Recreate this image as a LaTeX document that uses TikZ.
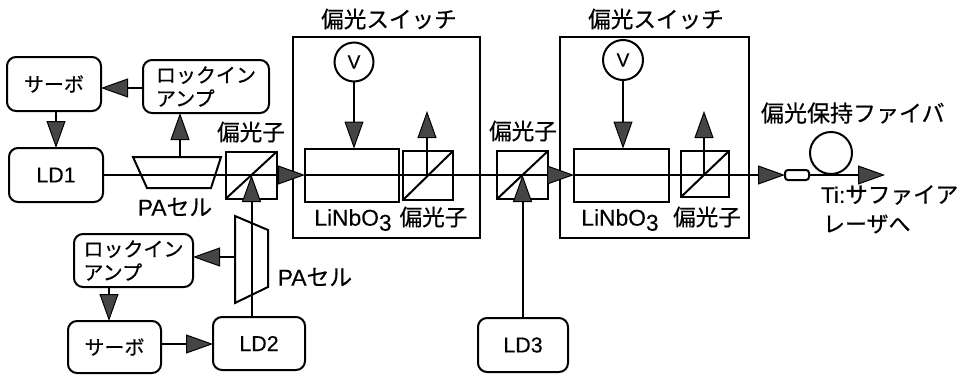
\documentclass[tikz,border=0pt]{standalone}
\usepackage{fontspec}
\setmainfont{Liberation Sans}[FakeBold=0.25]
\newfontfamily\jp{Noto Sans CJK JP}[FakeBold=0.5]
\usetikzlibrary{arrows.meta}
\definecolor{tipgray}{gray}{0.27}
\tikzset{
 x=1pt,y=-1pt,
 ln/.style={line width=2pt,black},
 rbox/.style={draw,rounded corners=9pt,inner sep=0pt,outer sep=0pt,align=left,font=\fontsize{20}{23.5}\selectfont\jp},
 ldbox/.style={rbox,font=\fontsize{21.5}{24}\selectfont},
 rect/.style={draw,inner sep=0pt,outer sep=0pt},
 ttl/.style={inner sep=0pt,font=\fontsize{22.6}{25}\selectfont\jp},
 lbl/.style={inner sep=0pt,font=\fontsize{22.8}{25}\selectfont},
 arr/.style={-{Triangle[length=27pt,width=19pt,fill=tipgray,line width=1pt]}},
}
\newcommand{\polcube}[4]{%
 \node[rect,minimum width=#3pt,minimum height=#4pt] (#1) at (#2) {};
 \draw (#1.south west) -- (#1.north east);}
\begin{document}
\begin{tikzpicture}[ln]
\useasboundingbox (0,0) rectangle (961,375);
% boxes upper left
\node[rbox,minimum width=94pt,minimum height=54pt] (servoa) at (54,84) {サーボ};
\node[rbox,minimum width=126pt,minimum height=53pt] (locka) at (206,86.5) {ロックイン\\アンプ};
\node[ldbox,minimum width=94pt,minimum height=54pt] (lda) at (56,175) {LD1};
% boxes lower left
\node[rbox,minimum width=119pt,minimum height=53pt] (lockb) at (133.5,260.5) {ロックイン\\アンプ};
\node[rbox,minimum width=93pt,minimum height=52pt] (servob) at (114.5,347) {サーボ};
\node[ldbox,minimum width=92pt,minimum height=53pt] (ldb) at (259,343.5) {LD2};
\node[ldbox,minimum width=90pt,minimum height=54pt] (ldc) at (523,345) {LD3};
% switches
\node[rect,minimum width=187pt,minimum height=201pt] (swa) at (386.5,137.5) {};
\node[rect,minimum width=189pt,minimum height=201pt] (swb) at (654.5,137.5) {};
\node[ttl] (swat) at (389,19) {偏光スイッチ};
\node[ttl] (swbt) at (656,19) {偏光スイッチ};
\node[draw,circle,inner sep=0pt,outer sep=0pt,minimum size=39pt,font=\fontsize{19}{20}\selectfont] (va) at (354,62) {V};
\node[draw,circle,inner sep=0pt,outer sep=0pt,minimum size=40pt,font=\fontsize{19}{20}\selectfont] (vb) at (623,60) {V};
\node[rect,minimum width=94pt,minimum height=53pt] (lna) at (352,175) {};
\node[rect,minimum width=95pt,minimum height=53pt] (lnb) at (621.5,175) {};
\polcube{pa}{251.5,175}{51}{47}
\polcube{pb}{428,175.5}{50}{49}
\polcube{pc}{522.5,175}{51}{48}
\polcube{pd}{705,174}{48}{46}
% PA cells
\draw (133,157) -- (221,157) -- (211,188) -- (147,188) -- cycle;
\draw (235,216) -- (268,230) -- (268,287) -- (235,303) -- cycle;
\coordinate (pacella) at (180,157);
\coordinate (pacellb) at (235,257);
\coordinate (pbup) at (427,111);
\coordinate (pdup) at (704,111);
\coordinate (fibout) at (885,175);
% fibre
\node[rect,rounded corners=3pt,minimum width=24pt,minimum height=10pt] (conn) at (797,175) {};
\node[draw,circle,inner sep=0pt,outer sep=0pt,minimum size=42pt] (loop) at (831,153) {};
% labels
\node[ttl] (la) at (251,132) {偏光子};
\node[ttl] (lb) at (523,131) {偏光子};
\node[ttl] (lc) at (433.5,217) {偏光子};
\node[ttl] (ld) at (707,217) {偏光子};
\node[lbl] (le) at (353,220) {LiNbO\raisebox{-5pt}{3}};
\node[lbl] (lf) at (620,220) {LiNbO\raisebox{-5pt}{3}};
\node[lbl] (pl) at (175,207) {PA{\jp セル}};
\node[lbl] (pm) at (315,277) {PA{\jp セル}};
\node[ttl,anchor=west,font=\fontsize{23}{25}\selectfont\jp] (fb) at (760,113) {偏光保持ファイバ};
\node[lbl,anchor=west,font=\fontsize{22.6}{25}\selectfont] (ti) at (820,195) {Ti:{\jp サファイア}};
\node[lbl,anchor=west,font=\fontsize{22}{25}\selectfont\jp] (to) at (822,224) {レーザへ};
% connectors
\draw[arr] (locka.west |- 0,88) -- (servoa.east |- 0,88);
\draw[arr] (servoa.south -| lda.north) -- (lda.north);
\draw[arr] (pacella) -- (pacella |- locka.south);
\draw[arr] (lda.east) -- (lna.west);
\draw[arr] (lna.west) -- (lnb.west);
\draw[arr] (lnb.west) -- (conn.west);
\draw[arr] (conn.east) -- (fibout);
\draw[arr] (ldb.north -| pa.center) -- (pa.center);
\draw[arr] (ldc.north -| pc.center) -- (pc.center);
\draw[arr] (pacellb) -- (pacellb -| lockb.east);
\draw[arr] (lockb.south -| 109,0) -- (servob.north -| 109,0);
\draw[arr] (servob.east |- 0,344) -- (ldb.west |- 0,344);
\draw[arr] (va.south) -- (lna.north -| va.south);
\draw[arr] (vb.south) -- (lnb.north -| vb.south);
\draw[arr] (pb.center -| pbup) -- (pbup);
\draw[arr] (pd.center -| pdup) -- (pdup);
\end{tikzpicture}
\end{document}
